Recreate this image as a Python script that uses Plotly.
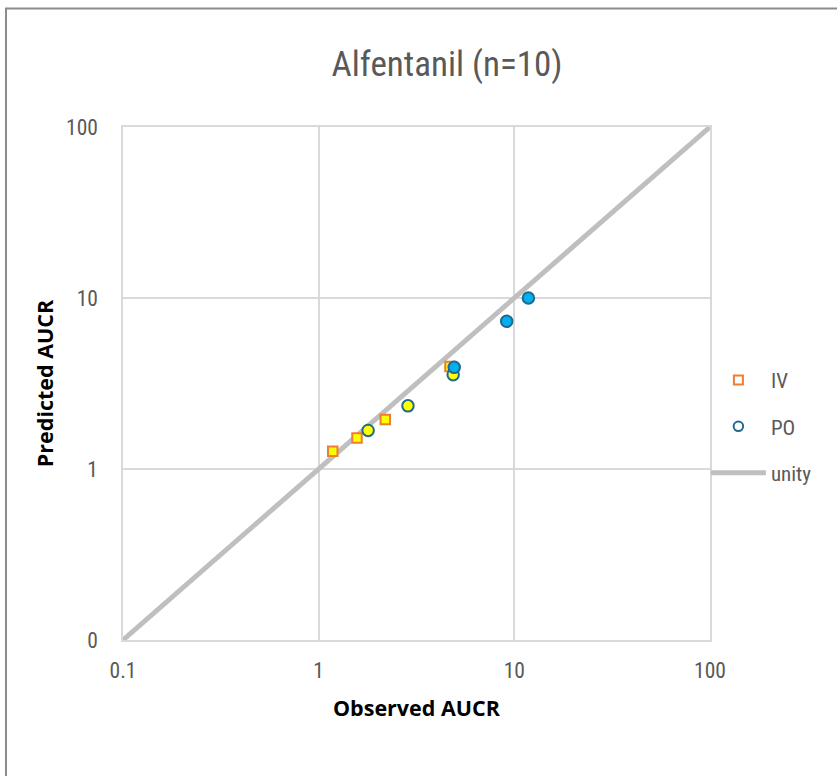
import plotly.graph_objects as go

# Data
iv_observed = [1.18, 1.57, 2.19, 4.69]
iv_predicted = [1.27, 1.52, 1.95, 3.97]

po_observed = [1.79, 2.86, 4.87, 4.93, 9.14, 11.8]
po_predicted = [1.68, 2.34, 3.56, 3.93, 7.31, 10.0]
po_fill = ["#FFFF00", "#FFFF00", "#FFFF00", "#00B0F0", "#00B0F0", "#00B0F0"]

unity_x = [0.1, 100]
unity_y = [0.1, 100]

tick_vals = [0.1, 1, 10, 100]
x_tick_text = ["0.1", "1", "10", "100"]
y_tick_text = ["0", "1", "10", "100"]

FONT = "Liberation Sans Narrow, Roboto Condensed, Roboto, sans-serif"
TITLE_FONT = "Open Sans, Roboto, sans-serif"
GREY_TXT = "#595959"
ORANGE = "#ED7D31"
BLUE_EDGE = "#1F6A8E"

fig = go.Figure()

# unity line
fig.add_trace(go.Scatter(
    x=unity_x, y=unity_y, mode="lines", name="unity",
    line=dict(color="#BFBFBF", width=5), showlegend=False,
))

# IV
fig.add_trace(go.Scatter(
    x=iv_observed, y=iv_predicted, mode="markers", name="IV", showlegend=False,
    marker=dict(symbol="square", size=9.5, color="#FFFF00",
                line=dict(color=ORANGE, width=2)),
))
# PO
fig.add_trace(go.Scatter(
    x=po_observed, y=po_predicted, mode="markers", name="PO", showlegend=False,
    marker=dict(symbol="circle", size=11.5, color=po_fill,
                line=dict(color=BLUE_EDGE, width=2)),
))

# legend entries
fig.add_trace(go.Scatter(
    x=[None], y=[None], mode="markers", name="IV", legendgroup="a",
    marker=dict(symbol="square", size=9, color="white",
                line=dict(color=ORANGE, width=2)),
))
fig.add_trace(go.Scatter(
    x=[None], y=[None], mode="markers", name="PO", legendgroup="b",
    marker=dict(symbol="circle", size=9.5, color="white",
                line=dict(color=BLUE_EDGE, width=2)),
))
fig.add_trace(go.Scatter(
    x=[None], y=[None], mode="lines", name="unity", legendgroup="c",
    line=dict(color="#BFBFBF", width=5),
))

axis_common = dict(
    type="log", range=[-1, 2], tickvals=tick_vals,
    showgrid=True, gridcolor="#D9D9D9", gridwidth=1.5,
    showline=True, linecolor="#D9D9D9", linewidth=1.5, mirror=True,
    zeroline=False, ticks="",
    tickfont=dict(family=FONT, size=21.5, color=GREY_TXT),
)

fig.update_layout(
    width=837, height=776,
    margin=dict(l=123, r=127, t=127, b=136),
    paper_bgcolor="white", plot_bgcolor="white",
    title=dict(text="Alfentanil (n=10)", x=(447) / 837, xanchor="center",
               y=1 - 64 / 776, yanchor="middle",
               font=dict(family=FONT, size=35, color=GREY_TXT)),
    xaxis=dict(**axis_common, ticktext=x_tick_text, ticklabelstandoff=10,
               title=dict(text="<b>Observed AUCR</b>", standoff=19,
                          font=dict(family=TITLE_FONT, size=21.5, color="black"))),
    yaxis=dict(**axis_common, ticktext=y_tick_text, ticklabelstandoff=19,
               title=dict(text="<b>Predicted AUCR</b>", standoff=7,
                          font=dict(family=TITLE_FONT, size=21.5, color="black"))),
    legend=dict(x=0.993, xanchor="left", y=0.546, yanchor="top",
                font=dict(family=FONT, size=21, color=GREY_TXT),
                tracegroupgap=16, itemwidth=55, bgcolor="rgba(0,0,0,0)"),
    showlegend=True,
    shapes=[dict(type="rect", xref="paper", yref="paper",
                 x0=-117 / 587, x1=1.4, y0=-0.4, y1=631.5 / 513,
                 line=dict(color="#8C8C8C", width=2), layer="below")],
)

fig.write_html("out.html")
